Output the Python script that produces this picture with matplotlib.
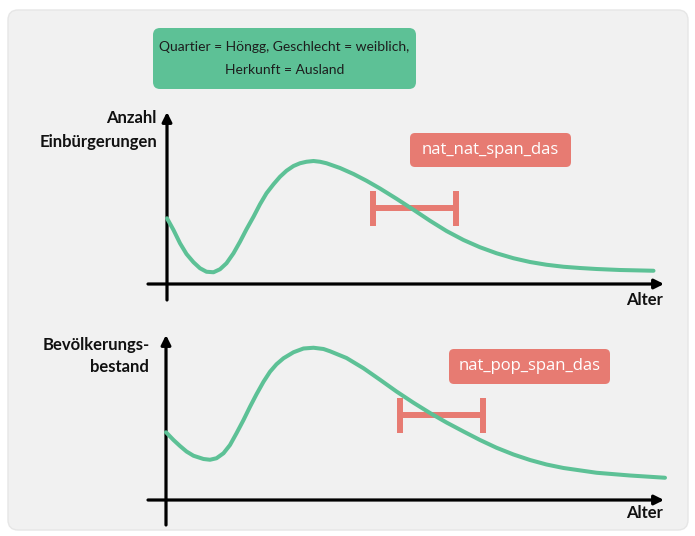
import matplotlib.pyplot as plt
from matplotlib.patches import FancyBboxPatch

# Schematic curves (Alter, Wert)
nat_age = [0, 1.3, 2.6, 3.9, 5.3, 6.6, 7.9, 9.3, 10.6, 11.9, 13.3, 14.6, 15.9,
           17.3, 18.6, 19.9, 21.3, 22.6, 23.9, 25.3, 26.6, 27.9, 29.3, 30.6,
           31.9, 34.6, 37.3, 39.9, 42.6, 45.9, 49.3, 52.6, 55.9, 59.3, 62.6,
           65.9, 69.3, 72.6, 75.9, 79.3, 82.6, 85.9, 90.6, 97.3]
nat_val = [52.6, 43.2, 32.6, 24.0, 17.4, 12.6, 9.8, 9.4, 11.8, 16.6, 24.6,
           33.8, 43.8, 53.8, 63.8, 72.6, 79.8, 85.8, 90.6, 94.4, 96.6, 97.8,
           98.4, 97.8, 96.6, 92.8, 88.0, 82.6, 76.4, 68.2, 59.4, 50.6, 42.4,
           35.2, 29.4, 24.6, 20.6, 17.6, 15.4, 13.8, 12.8, 12.0, 11.2, 10.6]

pop_age = [0, 1.5, 2.8, 4.1, 5.5, 7.5, 8.8, 10.1, 11.5, 12.8, 14.1, 15.5, 16.8,
           18.1, 19.5, 20.8, 22.1, 23.5, 25.5, 27.5, 29.5, 31.5, 32.8, 36.1,
           39.5, 42.8, 46.1, 49.5, 52.8, 56.1, 59.5, 62.8, 66.1, 69.5, 72.8,
           76.1, 79.5, 86.1, 92.8, 99.8]
pop_val = [54.2, 48, 43.2, 38.8, 35.4, 32.8, 32.2, 33.4, 37.4, 44, 53.4, 64, 74.6,
           84.6, 94.6, 102.6, 108.6, 113.4, 118.2, 121.2, 121.8, 120.8, 119.0,
           113.6, 105.4, 96.2, 86.8, 77.8, 69.6, 62, 54.8, 48, 41.8, 36.4, 32,
           28.4, 25.6, 21.8, 19.6, 17.8]

# span markers: centre age, half width, height
nat_span = (49.5, 8.3, 60.8)
pop_span = (55.1, 8.3, 68.0)

title_lines = ["Quartier = Höngg, Geschlecht = weiblich,", "Herkunft = Ausland"]
nat_label = "nat_nat_span_das"
pop_label = "nat_pop_span_das"

green = "#5dc196"
red = "#e77b72"
body_font = ["Lato", "DejaVu Sans"]

fig = plt.figure(figsize=(6.95, 5.36), dpi=100)

# background layer in pixel units
bg = fig.add_axes([0, 0, 1, 1])
bg.set_xlim(0, 695)
bg.set_ylim(536, 0)
bg.axis("off")
bg.add_patch(FancyBboxPatch((8, 10), 680, 520, boxstyle="round,pad=0,rounding_size=10",
                            fc="#f1f1f1", ec="#e6e6e6", lw=1))
bg.add_patch(FancyBboxPatch((153, 28), 263, 61, boxstyle="round,pad=0,rounding_size=7",
                            fc=green, ec="none"))
bg.text(284.5, 47, title_lines[0], ha="center", va="center", fontsize=10,
        family=body_font, color="#1d1d1d")
bg.text(284.5, 70, title_lines[1], ha="center", va="center", fontsize=10,
        family=body_font, color="#1d1d1d")
bg.add_patch(FancyBboxPatch((410, 133), 161, 34, boxstyle="round,pad=0,rounding_size=5",
                            fc=red, ec="none"))
bg.text(490.5, 150, nat_label, ha="center", va="center", fontsize=12,
        family=["Open Sans", "DejaVu Sans"], color="white")
bg.add_patch(FancyBboxPatch((449, 349), 161, 35, boxstyle="round,pad=0,rounding_size=5",
                            fc=red, ec="none"))
bg.text(529.5, 366.5, pop_label, ha="center", va="center", fontsize=12,
        family=["Open Sans", "DejaVu Sans"], color="white")

# y labels
bg.text(156, 118, "Anzahl", ha="right", va="center", fontsize=12, fontweight="bold",
        family=body_font, color="#111111")
bg.text(157, 142, "Einbürgerungen", ha="right", va="center", fontsize=12,
        fontweight="bold", family=body_font, color="#111111")
bg.text(150, 345, "Bevölkerungs-", ha="right", va="center", fontsize=12,
        fontweight="bold", family=body_font, color="#111111")
bg.text(149, 367, "bestand", ha="right", va="center", fontsize=12, fontweight="bold",
        family=body_font, color="#111111")
bg.text(645, 300, "Alter", ha="center", va="center", fontsize=12, fontweight="bold",
        family=body_font, color="#111111")
bg.text(645, 513, "Alter", ha="center", va="center", fontsize=12, fontweight="bold",
        family=body_font, color="#111111")


def panel(rect, xlim, ylim, ages, vals, span, xaxis, yaxis):
    ax = fig.add_axes(rect)
    ax.set_xlim(*xlim)
    ax.set_ylim(*ylim)
    ax.axis("off")
    ax.patch.set_alpha(0)
    ax.annotate("", xy=(xaxis[1], 0), xytext=(xaxis[0], 0),
                arrowprops=dict(arrowstyle="-|>", lw=2.3, color="black",
                                mutation_scale=14, shrinkA=0, shrinkB=0))
    ax.annotate("", xy=(0, yaxis[1]), xytext=(0, yaxis[0]),
                arrowprops=dict(arrowstyle="-|>", lw=2.3, color="black",
                                mutation_scale=14, shrinkA=0, shrinkB=0))
    ax.plot(ages, vals, color=green, lw=2.9, solid_capstyle="round",
            solid_joinstyle="round", zorder=3)
    ax.errorbar(span[0], span[2], xerr=span[1], color=red, lw=4.3, capsize=12.6,
                capthick=4.3, zorder=2)
    return ax


panel([140 / 695, 226 / 536, 540 / 695, 205 / 536], (-5.4, 102.6), (-20.8, 143.2),
      nat_age, nat_val, nat_span, (-3.8, 99.4), (-12.8, 137.6))
panel([140 / 695, 6 / 536, 540 / 695, 205 / 536], (-5.2, 102.8), (-24, 140),
      pop_age, pop_val, pop_span, (-3.6, 99.6), (-20, 132))

fig.savefig("out.png", dpi=100)
